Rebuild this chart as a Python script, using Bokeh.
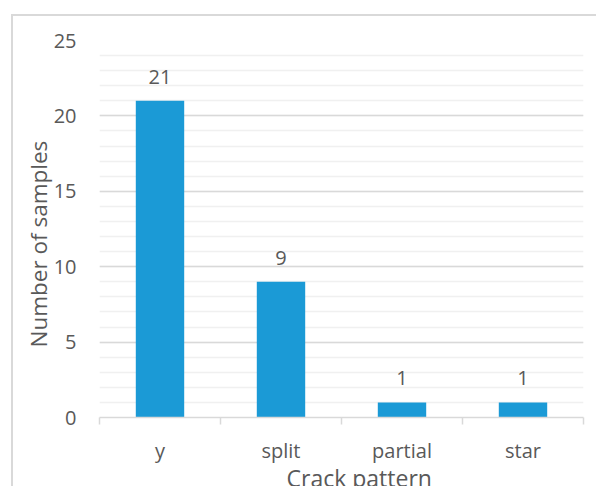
from bokeh.embed import file_html
from bokeh.models import (ColumnDataSource, FixedTicker, InlineStyleSheet,
                          Range1d, SingleIntervalTicker, Title)
from bokeh.plotting import figure
from bokeh.resources import INLINE
from bokeh.core.properties import value

# Crack pattern counts
patterns = ["y", "split", "partial", "star"]
counts = [21, 9, 1, 1]
y_ticks_step = 5
y_max = 25

FONT = "Open Sans"
TEXT = "#595959"
BAR = "#1b9ad6"

src = ColumnDataSource(dict(
    x=[i + 0.5 for i in range(len(patterns))],
    count=counts,
    label=[str(c) for c in counts],
))

p = figure(
    width=585, height=472,
    x_range=Range1d(0, len(patterns)), y_range=Range1d(0, y_max),
    output_backend="svg", toolbar_location=None,
    min_border_left=86, min_border_right=15,
    min_border_top=24, min_border_bottom=71,
)
p.margin = (14, 0, 0, 11)
p.stylesheets = [InlineStyleSheet(css=":host { border-left: 2px solid #d9d9d9; border-top: 2px solid #d9d9d9; }")]
p.outline_line_color = None
p.background_fill_color = "white"
p.border_fill_color = "white"

p.vbar(x="x", top="count", width=0.4, source=src, color=BAR, line_color=None)
p.text(x="x", y="count", text="label", source=src,
       text_font=value(FONT), text_font_size="20px", text_color=TEXT,
       text_align="center", text_baseline="middle", y_offset=-24)

# Y axis and grid
p.yaxis.ticker = SingleIntervalTicker(interval=y_ticks_step, num_minor_ticks=5)
p.yaxis.axis_line_color = None
p.yaxis.major_tick_line_color = None
p.yaxis.minor_tick_line_color = None
p.yaxis.major_tick_out = 0
p.yaxis.minor_tick_out = 0
p.yaxis.major_label_standoff = 23
p.yaxis.major_label_text_font = FONT
p.yaxis.major_label_text_font_size = "20px"
p.yaxis.major_label_text_color = TEXT
p.ygrid.grid_line_color = "#d9d9d9"
p.ygrid.grid_line_width = 1.5
p.ygrid.minor_grid_line_color = "#f0f0f0"
p.ygrid.minor_grid_line_width = 1.5
p.xgrid.grid_line_color = None

# X axis: category names at bar centres, tick marks on category boundaries
p.xaxis.ticker = FixedTicker(ticks=[i + 0.5 for i in range(len(patterns))],
                             minor_ticks=list(range(len(patterns) + 1)))
p.xaxis.major_label_overrides = {i + 0.5: name for i, name in enumerate(patterns)}
p.xaxis.axis_line_color = "#d9d9d9"
p.xaxis.axis_line_width = 1.5
p.xaxis.major_tick_line_color = None
p.xaxis.major_tick_out = 6
p.xaxis.minor_tick_line_color = "#d9d9d9"
p.xaxis.minor_tick_line_width = 1.5
p.xaxis.minor_tick_out = 7
p.xaxis.minor_tick_in = 0
p.xaxis.major_label_standoff = 12
p.xaxis.major_label_text_font = FONT
p.xaxis.major_label_text_font_size = "20px"
p.xaxis.major_label_text_color = TEXT

# Axis titles
p.add_layout(Title(text="Crack pattern", align="left", offset=187,
                   standoff=-12, vertical_align="middle",
                   text_font=FONT, text_font_size="23px",
                   text_font_style="normal", text_color=TEXT), "below")
p.add_layout(Title(text="Number of samples", align="left", offset=70,
                   standoff=-9, vertical_align="middle",
                   text_font=FONT, text_font_size="22.5px",
                   text_font_style="normal", text_color=TEXT), "left")

open("out.html", "w").write(file_html(p, INLINE))
